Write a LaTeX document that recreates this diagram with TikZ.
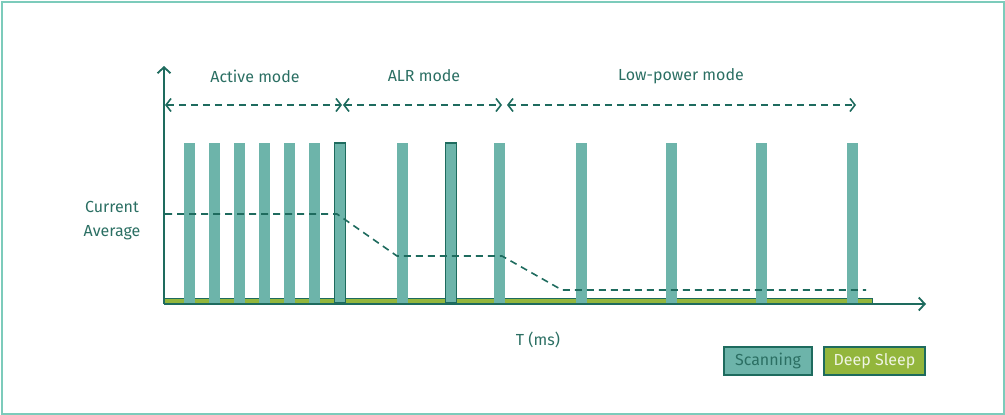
\documentclass[tikz,border=0pt]{standalone}
\usepackage{fontspec}
\setmainfont{Fira Sans}
\usetikzlibrary{arrows.meta}
\definecolor{bordure}{HTML}{7CCBBB}
\definecolor{sarcelle}{HTML}{1E6B5E}
\definecolor{barres}{HTML}{6DB4AA}
\definecolor{veille}{HTML}{93B63C}
\definecolor{texte}{HTML}{2B6F63}
\tikzstyle{axe}        =[sarcelle, line width=1.8pt]
\tikzstyle{barre}      =[fill=barres]
\tikzstyle{barrecadre} =[fill=barres, draw=sarcelle, line width=1.5pt]
\tikzstyle{pointille}  =[sarcelle, line width=1.6pt, dash pattern=on 7pt off 5pt]
\tikzstyle{fleche}     =[pointille, {Straight Barb[length=5pt,width=13pt]}-{Straight Barb[length=5pt,width=13pt]}]
\tikzstyle{etiquette}  =[text=texte, font=\fontsize{16}{24}\selectfont]
\newcommand{\creneau}[1]{\fill[barre] (#1-5.5,143) rectangle (#1+5.5,303);}

\begin{document}
\begin{tikzpicture}[x=1pt,y=-1pt]
\useasboundingbox (0,0) rectangle (1005,415);

%cadre
\draw[bordure,line width=2pt] (1.5,1.5) rectangle (1003.5,413.5);

%%%%%%%%%%%%%%%%%%%%%%%%
%bande de veille profonde
%%%%%%%%%%%%%%%%%%%%%%%%
\draw[fill=veille,draw=sarcelle,line width=1pt] (164,298) rectangle (872,304);

%%%%%%%%%%%%%%%%%%%%%%%%
%créneaux de scan
%%%%%%%%%%%%%%%%%%%%%%%%
\creneau{189} \creneau{214} \creneau{239} \creneau{264} \creneau{289} \creneau{314}
\draw[barrecadre] (334.5,143) rectangle (345.5,303);
\creneau{402}
\draw[barrecadre] (445.5,143) rectangle (456.5,303);
\creneau{499} \creneau{581} \creneau{671} \creneau{761} \creneau{852}

%courant moyen
\draw[pointille] (165,214) -- (337,214) -- (397,256) -- (502,256) -- (562,290) -- (866,290);

%axes
\coordinate (O) at (164,304);
\coordinate (Y) at (164,66);
\coordinate (X) at (926,304);
\draw[axe,-{Straight Barb[length=6pt,width=13pt]}] (O) -- (Y);
\draw[axe,-{Straight Barb[length=6pt,width=13pt]}] (O) -- (X);

%%%%%%%%%%%%%%%%%%%%%%%%
%les modes
%%%%%%%%%%%%%%%%%%%%%%%%
\coordinate (m0) at (165,105);
\coordinate (m1) at (342,105);
\coordinate (m2) at (343,105);
\coordinate (m3) at (502,105);
\coordinate (m4) at (507,105);
\coordinate (m5) at (856,105);
\draw[fleche] (m0) -- (m1);
\draw[fleche] (m2) -- (m3);
\draw[fleche] (m4) -- (m5);

\node[etiquette] (actif) at (255,76) {Active mode};
\node[etiquette] (alr) at (424,76) {ALR mode};
\node[etiquette] (econome) at (681,76) {Low-power mode};

\node[etiquette,align=center] (moyenne) at (112,221) {Current\\Average};
\node[etiquette] (temps) at (538,340) {T (ms)};

%légende
\node[etiquette,fill=barres,draw=sarcelle,line width=1.5pt,minimum width=88pt,minimum height=28pt,inner sep=0pt] (scan) at (768,361) {Scanning};
\node[etiquette,text=veille!15,fill=veille,draw=sarcelle,line width=1.5pt,minimum width=101pt,minimum height=28pt,inner sep=0pt] (sommeil) at (874.5,361) {Deep Sleep};

\end{tikzpicture}
\end{document}
